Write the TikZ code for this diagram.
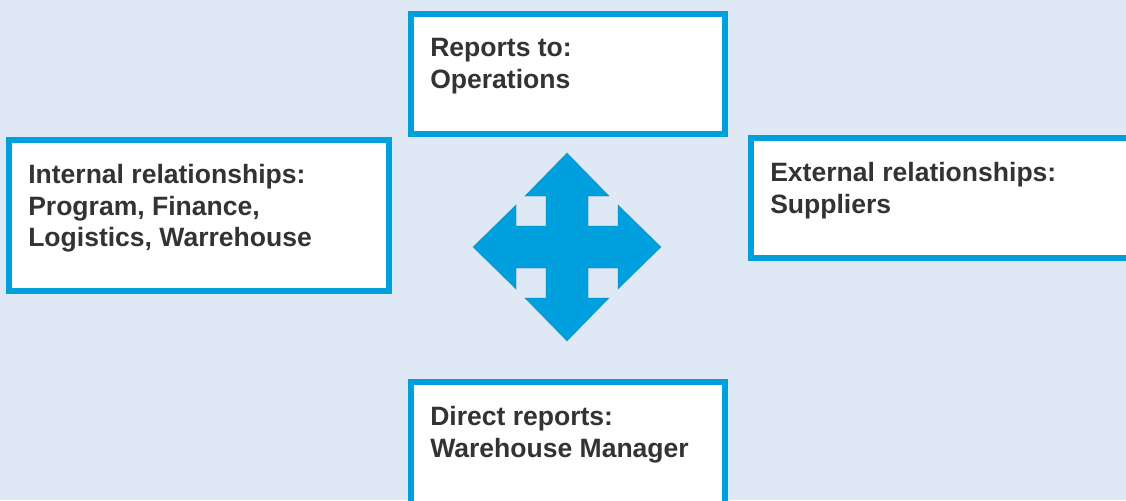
\documentclass[tikz,border=0pt]{standalone}
\usepackage{fontspec}
\setmainfont{Liberation Sans}
\usepackage{tikz}

\definecolor{paneblue}{RGB}{222,233,245}
\definecolor{edgeblue}{RGB}{0,160,222}
\definecolor{inkgray}{RGB}{51,51,51}

\begin{document}
\begin{tikzpicture}[x=0.75pt,y=-0.75pt]
                \tikzstyle{box}=[rectangle, draw=edgeblue, fill=white, line width=4.5pt, inner sep=0pt]
                \tikzstyle{caption}=[anchor=north west, inner sep=0pt, align=left, text=inkgray, font=\fontsize{19.9}{23.8}\selectfont\bfseries]
                \tikzstyle{cross}=[fill=edgeblue, draw=edgeblue!70!black, draw opacity=0.35, line width=0.6pt]

                \useasboundingbox (0,0) rectangle (1126,500);
                \fill[paneblue] (0,0) rectangle (1126,500);
                \clip (0,0) rectangle (1126,500);

                % the four boxes (right and bottom run off the edge)
                \node[box, minimum width=235.5pt, minimum height=90pt] (up) at (568,74) {};
                \node[box, minimum width=285pt, minimum height=113.25pt] (internal) at (199,215.5) {};
                \node[box, minimum width=299.25pt, minimum height=90pt] (external) at (950.5,198) {};
                \node[box, minimum width=235.5pt, minimum height=103.5pt] (down) at (568,451) {};

                \foreach \b/\t in {up/{Reports to:\\Operations},
                                   internal/{Internal relationships:\\Program, Finance,\\Logistics, Warrehouse},
                                   external/{External relationships:\\Suppliers},
                                   down/{Direct reports:\\Warehouse Manager}}
                \node[caption] (\b-text) at ([shift={(22,27)}]\b.north west) {\t};

                % four-way arrow in the middle
                \begin{scope}[shift={(567,247)}]
                \path[cross] (0,-94) -- (42,-51) -- (21,-51) -- (21,-21) -- (51,-21) -- (51,-42)
                    -- (94,0) -- (51,42) -- (51,21) -- (21,21) -- (21,51) -- (42,51)
                    -- (0,94) -- (-42,51) -- (-21,51) -- (-21,21) -- (-51,21) -- (-51,42)
                    -- (-94,0) -- (-51,-42) -- (-51,-21) -- (-21,-21) -- (-21,-51) -- (-42,-51) -- cycle;
                \end{scope}
            \end{tikzpicture}
\end{document}
